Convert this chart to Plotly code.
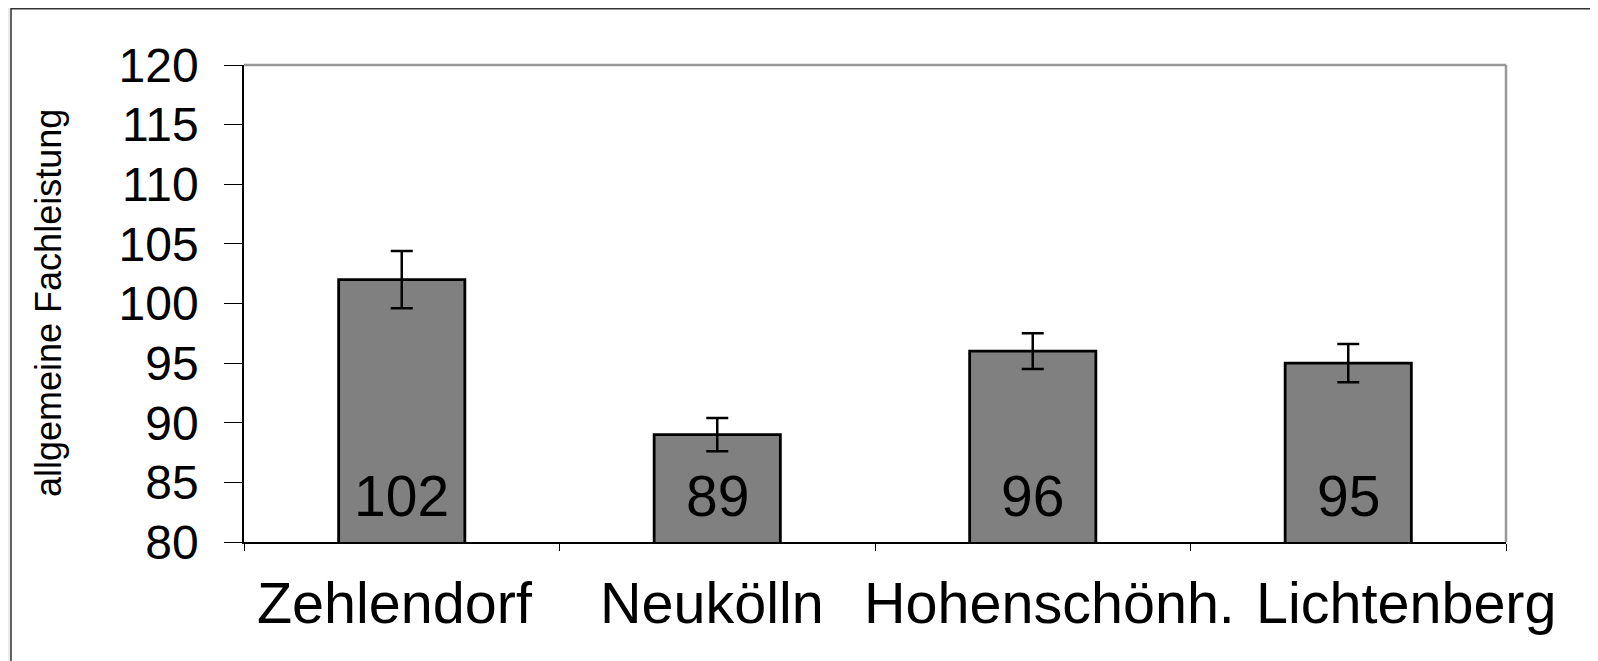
import plotly.graph_objects as go

categories = ["Zehlendorf", "Neukölln", "Hohenschönh.", "Lichtenberg"]
values = [102, 89, 96, 95]
errors = [2.4, 1.4, 1.5, 1.6]
value_labels = ["102", "89", "96", "95"]
y_ticks = [80, 85, 90, 95, 100, 105, 110, 115, 120]
y_title = "allgemeine Fachleistung"

# horizontal nudges (px) of the category labels, as laid out in the original
label_shift = [-7, -5, 17, 58]

W, H = 1598, 661
OFF = 8  # page body margin of the browser
# plot area in screen pixels
SX0, SX1, SY0, SY1 = 244, 1506, 65, 542
L = SX0 - OFF
T = SY0 - OFF
R = W - (SX1 - OFF)
B = H - (SY1 - OFF)
pw = W - L - R
ph = H - T - B


def px_x(p):
    return (p - OFF - L) / pw


def px_y(p):
    return (H - B - (p - OFF)) / ph


FONT = "Liberation Sans, Arial, sans-serif"

fig = go.Figure(
    go.Bar(
        x=categories,
        y=values,
        width=0.4,
        marker=dict(color="#808080", line=dict(color="black", width=2.8)),
        error_y=dict(type="data", array=errors, color="black", thickness=2.5, width=11),
        hoverinfo="skip",
    )
)

annotations = []
for c, lab in zip(categories, value_labels):
    annotations.append(
        dict(x=c, y=y_ticks[0], xref="x", yref="y", text=lab, showarrow=False,
             yanchor="bottom", yshift=12, font=dict(family=FONT, size=57, color="black"))
    )
for c, dx in zip(categories, label_shift):
    annotations.append(
        dict(x=c, y=0, xref="x", yref="paper", text=c, showarrow=False,
             xanchor="center", yanchor="top", xshift=dx, yshift=-27,
             font=dict(family=FONT, size=57.5, color="black"))
    )
annotations.append(
    dict(x=px_x(48), y=px_y(303), xref="paper", yref="paper", text=y_title, showarrow=False,
         textangle=-90, xanchor="center", yanchor="middle",
         font=dict(family=FONT, size=36, color="black"))
)

shapes = [
    # outer white frame
    dict(type="rect", xref="paper", yref="paper", layer="below",
         x0=px_x(11), x1=px_x(1597), y0=px_y(690), y1=px_y(OFF + 0.75),
         fillcolor="white", line=dict(color="#333333", width=1.5)),
    # plot area top and right border (grey)
    dict(type="line", xref="paper", yref="paper", x0=0, x1=1, y0=1, y1=1,
         line=dict(color="#999999", width=2.5)),
    dict(type="line", xref="paper", yref="paper", x0=1, x1=1, y0=0, y1=1,
         line=dict(color="#999999", width=2.5)),
]

fig.update_layout(
    width=W, height=H,
    margin=dict(l=L, r=R, t=T, b=B, autoexpand=False),
    paper_bgcolor="#ebebeb",
    plot_bgcolor="white",
    showlegend=False,
    font=dict(family=FONT, color="black"),
    xaxis=dict(type="category", range=[-0.5, 3.5], tickson="boundaries", ticks="outside",
               ticklen=7, tickcolor="black", tickwidth=1, showline=True, linecolor="black",
               linewidth=1.5, showgrid=False, showticklabels=False),
    yaxis=dict(range=[y_ticks[0], y_ticks[-1]], tickvals=y_ticks, ticks="outside", ticklen=18,
               tickcolor="black", tickwidth=1, showline=True, linecolor="black", linewidth=1.5,
               showgrid=False, zeroline=False, tickfont=dict(family=FONT, size=48, color="black"),
               ticklabelstandoff=16),
    annotations=annotations,
    shapes=shapes,
)

fig.write_html("out.html")
